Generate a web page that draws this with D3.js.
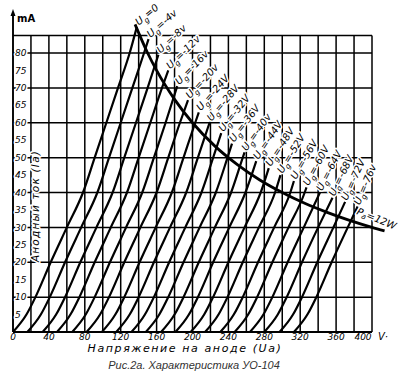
<!DOCTYPE html>
<html>
<head>
<meta charset="utf-8">
<script src="https://cdn.jsdelivr.net/npm/d3@7/dist/d3.min.js"></script>
<style>
  body { margin: 0; background: #fff; }
  svg { display: block; }
</style>
</head>
<body>
<div id="chart"></div>
<script>
// grid voltages of the family, one curve each
var gridVolts = [0, -4, -8, -12, -16, -20, -24, -28, -32, -36, -40, -44, -48, -52, -56, -60, -64, -68, -72, -76];
var gridUnit = ["", "v", "v", "v", "v", "v", "V", "V", "V", "V", "v", "V", "V", "V", "V", "V", "V", "V", "V", "v"];

// anode characteristics, [Ua (V), Ia (mA)]
var curves = [
  [[0,0],[15,5],[25,10],[42,20],[60,30],[78,40],[91,50],[104,60],[117,70],[130,80],[138,87.5]],
  [[16,0],[31,5],[41,10],[58,20],[76,30],[94,40],[107,50],[120,60],[133,70],[146,80],[151,84]],
  [[33,0],[48,5],[58,10],[75,20],[93,30],[111,40],[124,50],[137,60],[150,70],[162,79.5]],
  [[49,0],[64,5],[74,10],[91,20],[109,30],[127,40],[140,50],[153,60],[166,70],[173,75]],
  [[66,0],[81,5],[91,10],[108,20],[126,30],[144,40],[157,50],[170,60],[183,70.5]],
  [[82,0],[97,5],[107,10],[124,20],[142,30],[160,40],[173,50],[186,60],[195,66.5]],
  [[99,0],[114,5],[124,10],[141,20],[159,30],[177,40],[190,50],[203,60],[207,63]],
  [[115,0],[130,5],[140,10],[157,20],[175,30],[193,40],[206,50],[219,60]],
  [[132,0],[147,5],[157,10],[174,20],[192,30],[210,40],[223,50],[232,57]],
  [[148,0],[163,5],[173,10],[190,20],[208,30],[226,40],[239,50],[244,54]],
  [[165,0],[180,5],[190,10],[207,20],[225,30],[243,40],[256,50],[258,51.5]],
  [[181,0],[196,5],[206,10],[223,20],[241,30],[259,40],[271,49]],
  [[198,0],[213,5],[223,10],[240,20],[258,30],[276,40],[285,47]],
  [[214,0],[229,5],[239,10],[256,20],[274,30],[292,40],[298,45]],
  [[231,0],[246,5],[256,10],[273,20],[291,30],[309,40],[313,43.3]],
  [[247,0],[262,5],[272,10],[289,20],[307,30],[325,40],[327,41.5]],
  [[264,0],[279,5],[289,10],[306,20],[324,30],[342,40]],
  [[280,0],[295,5],[305,10],[322,20],[340,30],[356,38.5]],
  [[297,0],[312,5],[322,10],[339,20],[357,30],[370,37.3]],
  [[313,0],[328,5],[338,10],[355,20],[373,30],[384,36]]
];

// anode dissipation limit Pa = 12 W
var powerU = [136, 150, 160, 180, 200, 225, 250, 275, 300, 325, 350, 375, 400, 414];
var powerI = [88.2, 80, 75, 66.7, 60, 53.3, 48, 43.6, 40, 36.9, 34.3, 32, 30, 29];

var xTickLabels = [0, 40, 80, 120, 160, 200, 240, 280, 320, 360, 400];
var yTickLabels = [5, 10, 15, 20, 25, 30, 35, 40, 45, 50, 55, 60, 65, 70, 75, 80];

var w = 400, h = 375;
var hand = "'DejaVu Sans', sans-serif";

var svg = d3.select("#chart").append("svg")
  .attr("width", w)
  .attr("height", h);

var x = d3.scaleLinear().domain([0, 400]).range([13, 372]);
var y = d3.scaleLinear().domain([0, 80]).range([332, 53]);

// grid
var grid = svg.append("g").attr("stroke", "#000").attr("stroke-width", 1.5);

grid.selectAll("line.v")
  .data(x.ticks(20).filter(function(d) { return d > 0; }))
  .enter().append("line")
  .attr("x1", function(d) { return x(d); })
  .attr("x2", function(d) { return x(d); })
  .attr("y1", y(0))
  .attr("y2", y(85));

grid.selectAll("line.h")
  .data(d3.range(10, 90, 10).concat([85]))
  .enter().append("line")
  .attr("x1", x(0))
  .attr("x2", x(400))
  .attr("y1", function(d) { return y(d); })
  .attr("y2", function(d) { return y(d); });

// axes
svg.append("line")
  .attr("x1", x(0)).attr("x2", x(400))
  .attr("y1", y(0)).attr("y2", y(0))
  .attr("stroke", "#000").attr("stroke-width", 1.9);

svg.append("line")
  .attr("x1", x(0)).attr("x2", x(0))
  .attr("y1", y(0)).attr("y2", 14)
  .attr("stroke", "#000").attr("stroke-width", 1.9);

svg.append("path")
  .attr("d", "M" + x(0) + ",9 l-2.5,7 h5 z")
  .attr("fill", "#000");

svg.append("text")
  .attr("x", 17).attr("y", 22)
  .attr("font-family", hand).attr("font-size", 10).attr("font-weight", "bold")
  .text("mA");

// tick labels get a white halo so the grid breaks round them, like the drawing
function halo(sel) {
  sel.attr("stroke", "#fff").attr("stroke-width", 3)
    .attr("paint-order", "stroke").attr("stroke-linejoin", "round");
}

svg.append("g").selectAll("text")
  .data(yTickLabels)
  .enter().append("text")
  .attr("x", 15)
  .attr("y", function(d) { return y(d); })
  .attr("dy", "0.35em")
  .attr("font-family", hand).attr("font-size", 9).attr("font-style", "italic")
  .call(halo)
  .text(function(d) { return d; });

svg.append("g").selectAll("text")
  .data(xTickLabels)
  .enter().append("text")
  .attr("x", function(d) { return d == 400 ? x(d) - 9 : x(d); })
  .attr("y", 340)
  .attr("text-anchor", "middle")
  .attr("font-family", hand).attr("font-size", 9).attr("font-style", "italic")
  .text(function(d) { return d; });

svg.append("text")
  .attr("x", 378).attr("y", 340)
  .attr("font-family", hand).attr("font-size", 10).attr("font-style", "italic")
  .text("V·");

// axis titles
svg.append("text")
  .attr("transform", "translate(39,206) rotate(-90)")
  .attr("text-anchor", "middle")
  .attr("font-family", hand).attr("font-size", 10.5).attr("font-style", "italic")
  .attr("letter-spacing", 1.2)
  .call(halo)
  .text("Анодный ток (Iа)");

svg.append("text")
  .attr("x", 185).attr("y", 352)
  .attr("text-anchor", "middle")
  .attr("font-family", hand).attr("font-size", 11).attr("font-style", "italic")
  .attr("letter-spacing", 1.6)
  .text("Напряжение на аноде (Uа)");

svg.append("text")
  .attr("x", 194).attr("y", 369)
  .attr("text-anchor", "middle")
  .attr("font-family", "'Liberation Sans', Arial, sans-serif")
  .attr("font-size", 11).attr("font-style", "italic")
  .attr("fill", "#333")
  .text("Рис.2а. Характеристика УО-104");

// curve labels, tilted, sitting just past each curve's end
var labels = svg.append("g").selectAll("text")
  .data(curves)
  .enter().append("text")
  .attr("transform", function(d, i) {
    var tip = d[d.length - 1];
    return "translate(" + (x(tip[0]) + 2) + "," + (y(tip[1]) - 1) + ") rotate(" + (-40 - i * 1.4) + ")";
  })
  .attr("font-family", hand).attr("font-size", 10).attr("font-style", "italic")
  .call(halo);

labels.append("tspan").text("U");
labels.append("tspan").attr("dy", 3).attr("font-size", 7.5).text("g");
labels.append("tspan").attr("dy", -3).text(function(d, i) {
  return gridVolts[i] == 0 ? "=0" : "=" + gridVolts[i] + gridUnit[i];
});

// anode curves
var line = d3.line()
  .x(function(d) { return x(d[0]); })
  .y(function(d) { return y(d[1]); })
  .curve(d3.curveMonotoneX);

svg.append("g").selectAll("path")
  .data(curves)
  .enter().append("path")
  .attr("d", line)
  .attr("fill", "none")
  .attr("stroke", "#000")
  .attr("stroke-width", 2.2);

// Pa = 12 W hyperbola
var power = powerU.map(function(u, i) { return [u, powerI[i]]; });

svg.append("path")
  .attr("d", line(power))
  .attr("fill", "none")
  .attr("stroke", "#000")
  .attr("stroke-width", 2.8);

var pa = svg.append("text")
  .attr("transform", "translate(356,214) rotate(22)")
  .attr("font-family", hand).attr("font-size", 10).attr("font-style", "italic")
  .call(halo);
pa.append("tspan").text("P");
pa.append("tspan").attr("dy", 2).attr("font-size", 7.5).text("a");
pa.append("tspan").attr("dy", -2).text("=12W");
</script>
</body>
</html>
